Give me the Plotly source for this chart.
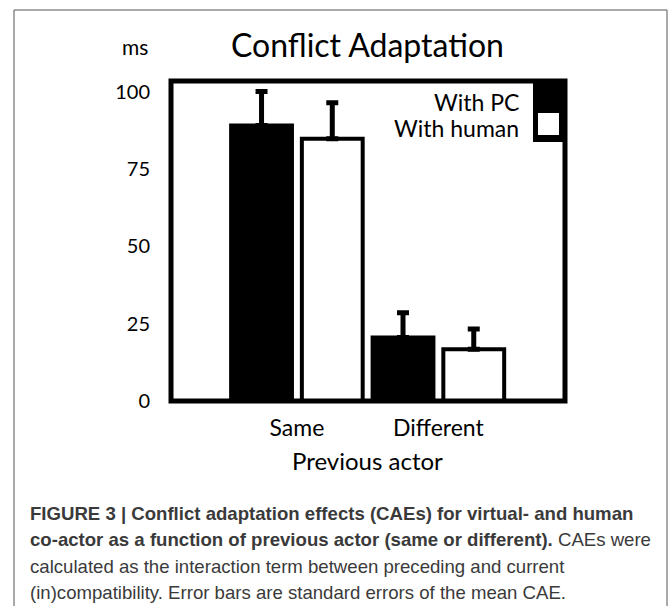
import plotly.graph_objects as go

categories = ["Same", "Different"]
series_names = ["With PC", "With human"]
pc_values = [89.0, 20.5]
pc_errors = [11.0, 8.0]
human_values = [84.7, 16.7]
human_errors = [11.7, 6.6]
y_ticks = [0, 25, 50, 75, 100]

W, H = 669, 606
L, R, T, B = 171, 104, 81, 205
PW, PH = W - L - R, H - T - B


def px(x):
    return (x - L) / PW


def py(y):
    return (H - B - y) / PH


CHART_FONT = "Lato, 'Open Sans', sans-serif"
CAP_FONT = "'Liberation Sans Narrow', 'Arial Narrow', 'Liberation Sans', Arial, sans-serif"

fig = go.Figure()
fig.add_trace(go.Bar(
    name=series_names[0], x=categories, y=pc_values,
    marker=dict(color="black", line=dict(color="black", width=4)),
    error_y=dict(type="data", array=pc_errors, arrayminus=[0, 0], symmetric=False,
                 color="black", thickness=5, width=6),
))
fig.add_trace(go.Bar(
    name=series_names[1], x=categories, y=human_values,
    marker=dict(color="white", line=dict(color="black", width=4)),
    error_y=dict(type="data", array=human_errors, arrayminus=[0, 0], symmetric=False,
                 color="black", thickness=5, width=6),
))

shapes = [
    # plot frame
    dict(type="rect", xref="paper", yref="paper", x0=0, x1=1, y0=0, y1=1,
         line=dict(color="black", width=5), layer="above"),
    # legend swatches
    dict(type="rect", xref="paper", yref="paper", x0=px(533), x1=px(566), y0=py(142), y1=py(80),
         fillcolor="black", line=dict(width=0), layer="above"),
    dict(type="rect", xref="paper", yref="paper", x0=px(538), x1=px(559), y0=py(135), y1=py(113),
         fillcolor="white", line=dict(width=0), layer="above"),
    # outer figure border
    dict(type="path", xref="paper", yref="paper",
         path=f"M {px(14)},{py(620)} L {px(14)},{py(10)} L {px(667)},{py(10)} L {px(667)},{py(620)}",
         line=dict(color="#555", width=1)),
]


def ann(text, x, y, size, xanchor="center", family=CHART_FONT, color="black"):
    return dict(text=text, x=px(x), y=py(y), xref="paper", yref="paper",
                xanchor=xanchor, yanchor="middle", showarrow=False,
                font=dict(family=family, size=size, color=color))


annotations = [
    ann("Conflict Adaptation", 367, 45, 32),
    ann("ms", 135, 46, 21),
    ann(series_names[0], 521, 102, 23, xanchor="right"),
    ann(series_names[1], 521, 128, 23, xanchor="right"),
    ann("Previous actor", 367, 460, 24),
]

caption_lines = [
    "<b>FIGURE 3 | Conflict adaptation effects (CAEs) for virtual- and human</b>",
    "<b>co-actor as a function of previous actor (same or different).</b> CAEs were",
    "calculated as the interaction term between preceding and current",
    "(in)compatibility. Error bars are standard errors of the mean CAE.",
]
caption_y = [513, 539, 566, 592]
for line, yy in zip(caption_lines, caption_y):
    annotations.append(ann(line, 28, yy, 18.6, xanchor="left", family=CAP_FONT, color="#3a3a3a"))

fig.update_layout(
    width=W, height=H,
    margin=dict(l=L, r=R, t=T, b=B),
    paper_bgcolor="white", plot_bgcolor="white",
    barmode="group", bargap=0.0, bargroupgap=0.14,
    showlegend=False,
    shapes=shapes, annotations=annotations,
    font=dict(family=CHART_FONT, color="black"),
)
fig.update_xaxes(range=[-0.89, 1.895], showgrid=False, zeroline=False, showline=False,
                 ticks="", tickfont=dict(family=CHART_FONT, size=23, color="black"),
                 ticklabelstandoff=11)
fig.update_yaxes(range=[0, 103.4], tickvals=y_ticks, showgrid=False, zeroline=False, showline=False,
                 ticks="", tickfont=dict(family=CHART_FONT, size=20, color="black"),
                 ticklabelstandoff=20)

fig.write_html("out.html", config={"displayModeBar": False},
               post_script="document.body.style.margin='0px';")
